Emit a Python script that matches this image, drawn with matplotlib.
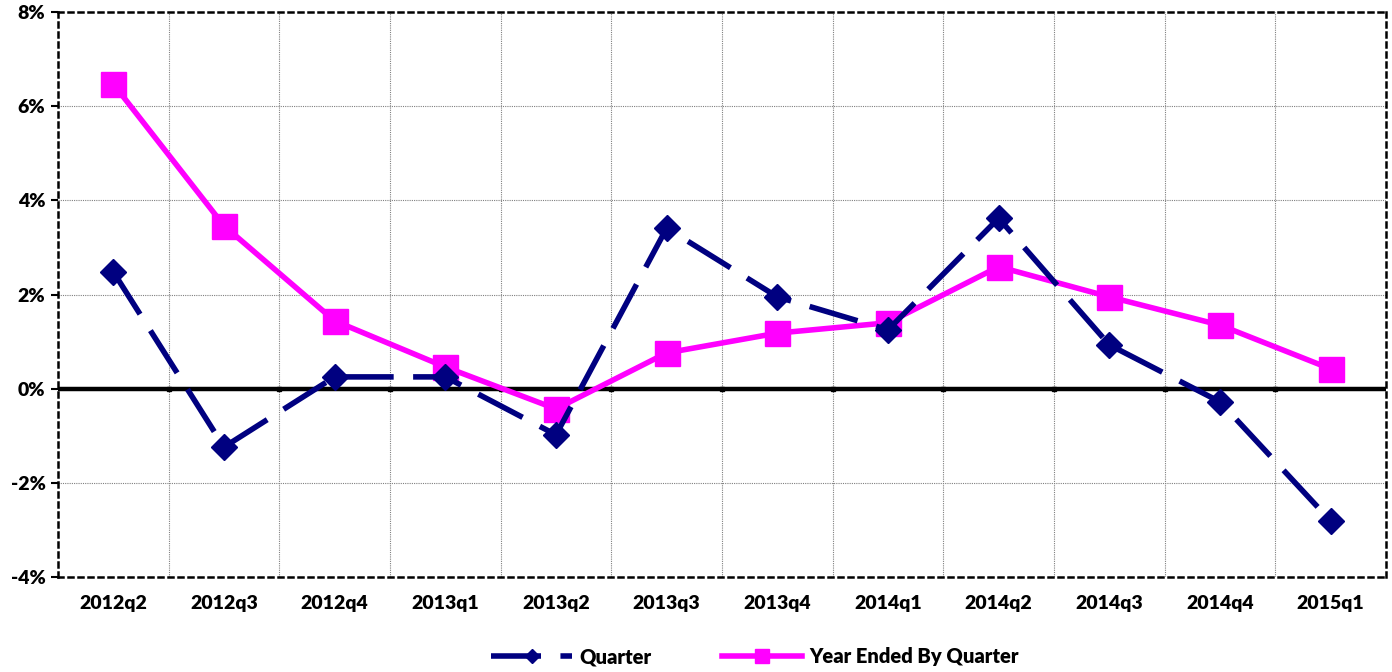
import matplotlib
matplotlib.use("Agg")
import matplotlib.pyplot as plt
import numpy as np

categories = ["2012q2", "2012q3", "2012q4", "2013q1", "2013q2", "2013q3",
              "2013q4", "2014q1", "2014q2", "2014q3", "2014q4", "2015q1"]
quarter = [2.48, -1.24, 0.25, 0.25, -0.98, 3.41, 1.95, 1.25, 3.62, 0.93, -0.28, -2.81]
year_ended = [6.47, 3.46, 1.44, 0.46, -0.43, 0.76, 1.18, 1.40, 2.59, 1.95, 1.35, 0.42]
y_ticks = [-4, -2, 0, 2, 4, 6, 8]
y_tick_labels = ["-4%", "-2%", "0%", "2%", "4%", "6%", "8%"]

plt.rcParams['font.family'] = ['Lato', 'DejaVu Sans']

fig = plt.figure(figsize=(13.92, 6.72), dpi=100)
ax = fig.add_axes([58/1392, 1-577/672, (1386-58)/1392, (577-12)/672])

x = np.arange(len(categories))
ax.set_xlim(-0.5, len(categories) - 0.5)
ax.set_ylim(-4, 8)

# grid
bounds = np.arange(0.5, len(categories) - 0.5, 1.0)
for b in bounds:
    ax.axvline(b, color='#808080', lw=0.8, ls=(0, (1, 1)), zorder=1)
for yt in y_ticks:
    if yt not in (-4, 0, 8):
        ax.axhline(yt, color='#808080', lw=0.8, ls=(0, (1, 1)), zorder=1)
ax.axhline(0, color='black', lw=3.2, zorder=2)
# x tick marks sitting on the zero line
ax.plot(bounds, np.zeros_like(bounds), ls='none', marker='s', ms=3.5,
        color='black', zorder=2)

ax.plot(x, quarter, color='#000080', lw=4, ls=(0, (9, 3.5)), marker='D', ms=13,
        label='Quarter', zorder=4)
ax.plot(x, year_ended, color='#FF00FF', lw=4, marker='s', ms=18,
        label='Year Ended By Quarter', zorder=3)

for s in ax.spines.values():
    s.set_linestyle((0, (2, 2)))
    s.set_linewidth(1.8)
    s.set_color('black')

ax.set_yticks(y_ticks)
ax.set_yticklabels(y_tick_labels, fontsize=14, fontweight='heavy')
ax.set_xticks(x)
ax.set_xticklabels(categories, fontsize=14, fontweight='heavy')
ax.tick_params(axis='x', length=0, pad=13)
ax.tick_params(axis='y', length=5, width=1.5, pad=4)

leg = fig.legend(loc='center', bbox_to_anchor=(755/1392, 1-657/672), ncol=2, frameon=False,
                 prop={'size': 14.5, 'weight': 'heavy'}, handlelength=4.0,
                 markerscale=0.55, columnspacing=3.5, handletextpad=0.35)

fig.savefig('out.png', dpi=100)
